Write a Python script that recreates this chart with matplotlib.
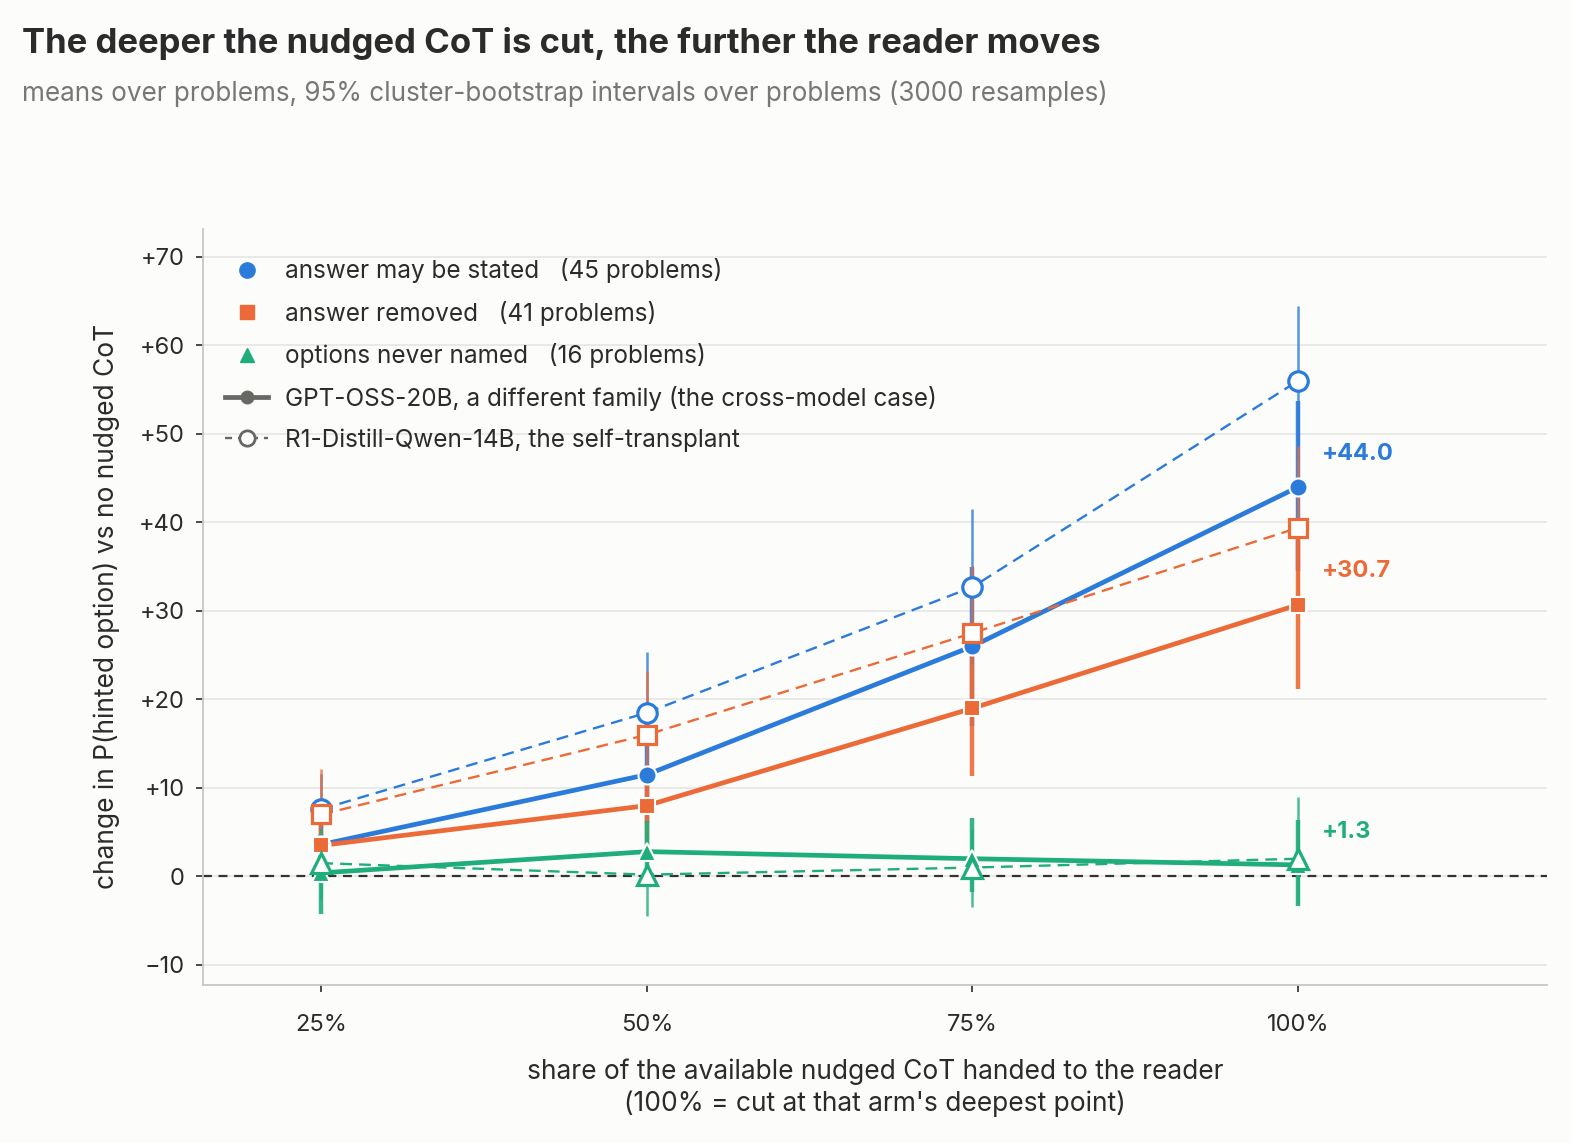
import matplotlib
matplotlib.use("Agg")
import matplotlib.pyplot as plt
from matplotlib.lines import Line2D

plt.rcParams["font.family"] = ["Inter", "DejaVu Sans"]

# share of the nudged CoT handed to the reader (%)
cut = [25, 50, 75, 100]

arms = ["stated", "removed", "never"]
arm_labels = {
    "stated": "answer may be stated   (45 problems)",
    "removed": "answer removed   (41 problems)",
    "never": "options never named   (16 problems)",
}

# GPT-OSS-20B reader (cross-model)
gpt_mean = {
    "stated": [3.6, 11.5, 26.0, 44.0],
    "removed": [3.5, 8.0, 19.0, 30.7],
    "never": [0.4, 2.8, 2.0, 1.3],
}
gpt_lo = {
    "stated": [0.8, 6.0, 17.0, 34.5],
    "removed": [0.9, 3.6, 11.4, 21.2],
    "never": [-4.2, -0.8, -1.8, -3.3],
}
gpt_hi = {
    "stated": [6.8, 17.2, 35.0, 53.7],
    "removed": [6.4, 12.6, 27.0, 40.0],
    "never": [4.8, 6.3, 6.6, 6.4],
}

# R1-Distill-Qwen-14B reader (self-transplant)
r1_mean = {
    "stated": [7.6, 18.5, 32.7, 56.0],
    "removed": [7.0, 16.0, 27.5, 39.4],
    "never": [1.5, 0.2, 1.0, 2.0],
}
r1_lo = {
    "stated": [3.6, 11.8, 24.0, 47.0],
    "removed": [2.8, 9.2, 20.0, 30.0],
    "never": [-2.5, -4.5, -3.5, -3.0],
}
r1_hi = {
    "stated": [11.6, 25.4, 41.5, 64.5],
    "removed": [12.1, 23.2, 35.1, 48.6],
    "never": [5.5, 4.8, 5.4, 9.0],
}

colors = {"stated": "#2b7bdb", "removed": "#ec6a37", "never": "#1fae7b"}
markers = {"stated": "o", "removed": "s", "never": "^"}
msize = {"stated": 13, "removed": 12, "never": 13}

BG = "#fcfcfa"
TXT = "#2b2b2b"

fig = plt.figure(figsize=(15.72, 11.43), dpi=100, facecolor=BG)
ax = fig.add_axes([0.129, 0.138, 0.855, 0.662], facecolor=BG)

ax.axhline(0, color="#333333", lw=1.6, ls=(0, (4, 3)), zorder=1.5)

for arm in arms:
    c = colors[arm]
    # error bars
    for x, lo, hi in zip(cut, gpt_lo[arm], gpt_hi[arm]):
        ax.plot([x, x], [lo, hi], color=c, lw=3.2, alpha=0.9, zorder=2,
                solid_capstyle="butt")
    for x, lo, hi in zip(cut, r1_lo[arm], r1_hi[arm]):
        ax.plot([x, x], [lo, hi], color=c, lw=1.8, alpha=0.8, zorder=2.2,
                solid_capstyle="butt")

    ax.plot(cut, gpt_mean[arm], color=c, lw=3.4, zorder=3)
    ax.plot(cut, r1_mean[arm], color=c, lw=1.7, ls=(0, (5, 3)), zorder=3)

    ax.plot(cut, gpt_mean[arm], ls="none", marker=markers[arm], ms=msize[arm],
            mfc=c, mec="white", mew=1.5, zorder=4)
    ax.plot(cut, r1_mean[arm], ls="none", marker=markers[arm], ms=msize[arm] + 1,
            mfc="white", mec=c, mew=2.3, zorder=5)

    ax.annotate(f"{gpt_mean[arm][-1]:+.1f}", (cut[-1], gpt_mean[arm][-1]),
                xytext=(17, 24), textcoords="offset points", color=c,
                fontsize=17, fontweight="bold", va="center", ha="left")

ax.set_xlim(15.9, 119.1)
ax.set_ylim(-12.3, 73.2)
ax.set_xticks(cut)
ax.set_xticklabels([f"{v}%" for v in cut])
yt = list(range(-10, 71, 10))
ax.set_yticks(yt)
ax.set_yticklabels([("+%d" % v) if v > 0 else ("0" if v == 0 else "\u2212%d" % -v) for v in yt])
ax.tick_params(axis="both", labelsize=17, colors=TXT, length=5, width=1.2)
ax.tick_params(axis="x", pad=16)
ax.tick_params(axis="y", pad=8)
ax.grid(axis="y", color="#e6e6e4", lw=1.2, zorder=0)
ax.set_axisbelow(True)
for side in ["top", "right"]:
    ax.spines[side].set_visible(False)
for side in ["left", "bottom"]:
    ax.spines[side].set_color("#c6c6c2")
    ax.spines[side].set_linewidth(1.3)

ax.set_xlabel("share of the available nudged CoT handed to the reader\n(100% = cut at that arm's deepest point)",
              fontsize=19, color=TXT, labelpad=16, linespacing=1.25)
ax.set_ylabel("change in P(hinted option) vs no nudged CoT", fontsize=19,
              color=TXT, labelpad=14)

grey = "#676764"
handles = [
    Line2D([], [], ls="none", marker="o", ms=11, color=colors["stated"]),
    Line2D([], [], ls="none", marker="s", ms=10, color=colors["removed"]),
    Line2D([], [], ls="none", marker="^", ms=10, color=colors["never"]),
    Line2D([], [], color=grey, lw=3.4, marker="o", ms=9, mfc=grey, mec=grey),
    Line2D([], [], color=grey, lw=1.7, ls=(0, (3, 2.5)), marker="o", ms=11,
           mfc="white", mec=grey, mew=2),
]
labels = [arm_labels[a] for a in arms] + [
    "GPT-OSS-20B, a different family (the cross-model case)",
    "R1-Distill-Qwen-14B, the self-transplant",
]
leg = ax.legend(handles, labels, loc="upper left", bbox_to_anchor=(0.0, 0.99),
                frameon=False, fontsize=17.5, labelspacing=0.72,
                handlelength=1.8, handletextpad=0.7)
for t in leg.get_texts():
    t.set_color(TXT)

fig.text(0.014, 0.962, "The deeper the nudged CoT is cut, the further the reader moves",
         fontsize=25, fontweight="bold", color=TXT, va="center", ha="left")
fig.text(0.014, 0.918, "means over problems, 95% cluster-bootstrap intervals over problems (3000 resamples)",
         fontsize=18.8, color="#777775", va="center", ha="left")

fig.savefig("out.png", dpi=100, facecolor=BG)
